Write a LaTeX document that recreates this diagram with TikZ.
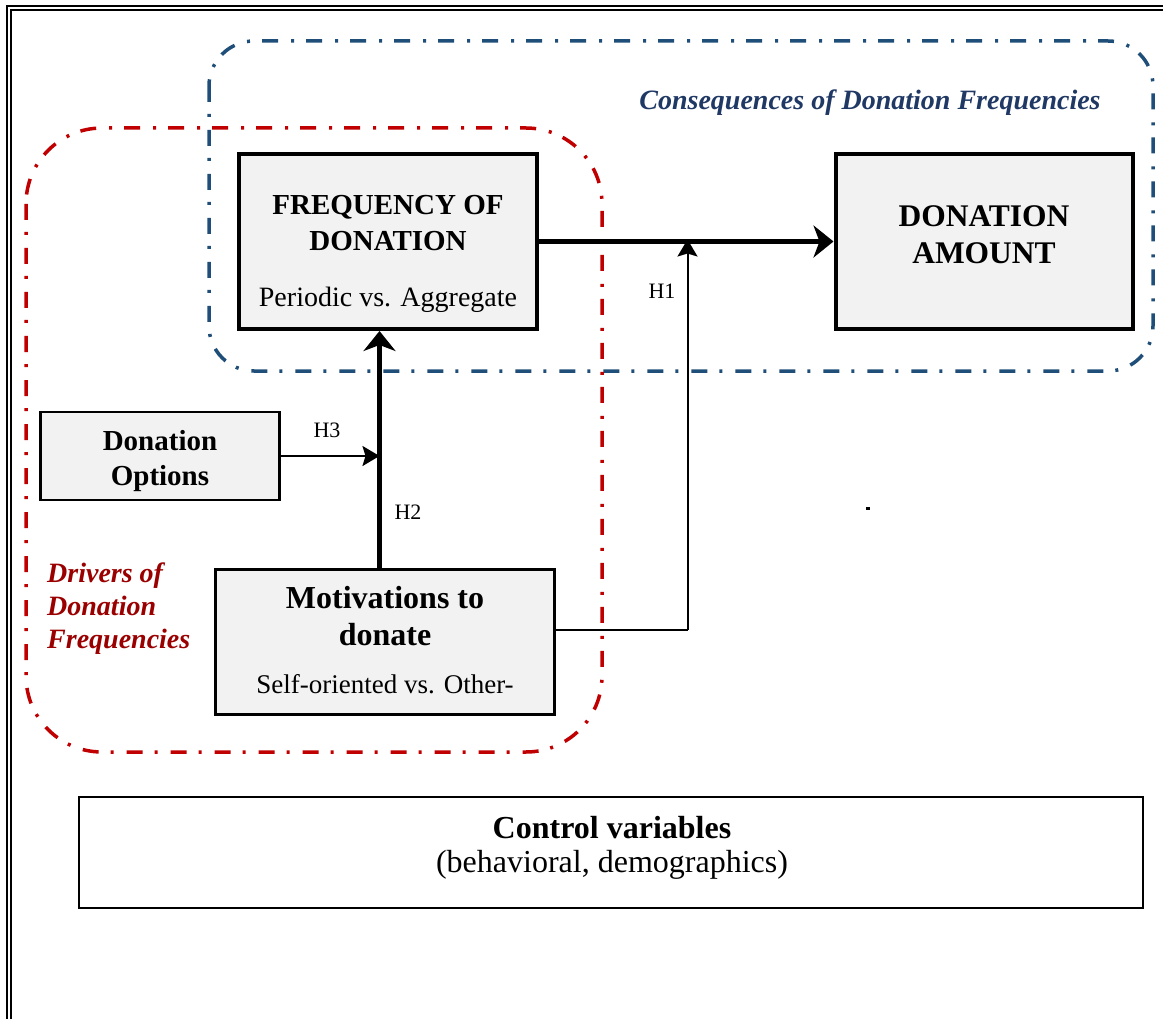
\documentclass[tikz,border=0pt]{standalone}
\usepackage{fontspec}
\setmainfont{Liberation Serif}
\usetikzlibrary{arrows.meta}
\definecolor{cblue}{HTML}{1F4E79}
\definecolor{cnavy}{HTML}{1F3864}
\definecolor{cred}{HTML}{C00000}
\definecolor{cdred}{HTML}{9A0000}
\definecolor{boxfill}{HTML}{F2F2F2}
\begin{document}
\begin{tikzpicture}[x=1pt,y=-1pt,
  dashdot/.style={line width=3.5pt, dash pattern=on 16pt off 12pt on 3pt off 13pt},
  boxthick/.style={draw=black, line width=4pt, fill=boxfill, inner sep=0pt},
  boxthin/.style={draw=black, line width=2.3pt, fill=boxfill, inner sep=0pt},
  txt/.style={inner sep=0pt, anchor=base},
  bigarrow/.style={line width=4.3pt, -{Stealth[length=20pt 0 0,width=32pt 0 0,inset=6pt 0 0]}},
  thinarrow/.style={line width=2pt, -{Stealth[length=17pt 0 0,width=20pt 0 0,inset=3pt 0 0]}},
  plainline/.style={line width=2pt},
]
\useasboundingbox (0,0) rectangle (1163,1019);
\clip (0,0) rectangle (1163,1019);
% outer double frame
\draw[line width=1.3pt] (7,6) rectangle (1300,1200);
\draw[line width=1.3pt] (11,10) rectangle (1300,1200);
% group outlines
\draw[cblue, dashdot, rounded corners=45pt] (209,41) rectangle (1153,371);
\draw[cred, dashdot, rounded corners=76pt] (26,128) rectangle (602,752);
% boxes
\node[boxthick, minimum width=298pt, minimum height=175pt] (freq) at (388,241.5) {};
\node[boxthick, minimum width=297.5pt, minimum height=175pt] (amount) at (984.25,241.5) {};
\node[boxthin, minimum width=239pt, minimum height=88pt] (opt) at (160,456) {};
\node[boxthin, minimum width=339pt, minimum height=145pt] (mot) at (385,642) {};
\node[draw=black, line width=2pt, fill=white, inner sep=0pt, minimum width=1064pt, minimum height=111pt] (ctrl) at (611,852.5) {};
% texts
\node[txt, text=cnavy, font=\fontsize{28}{34}\selectfont\bfseries\itshape] (conslbl) at (870,110) {Consequences of Donation Frequencies};
\node[txt, font=\fontsize{29}{36}\selectfont\bfseries] (freqt1) at (388,215) {FREQUENCY OF};
\node[txt, font=\fontsize{29}{36}\selectfont\bfseries] (freqt2) at (388,251) {DONATION};
\node[txt, font=\fontsize{28}{34}\selectfont] (freqt3) at (388,307) {Periodic vs. Aggregate};
\node[txt, font=\fontsize{31.5}{38}\selectfont\bfseries] (amt1) at (984,227) {DONATION};
\node[txt, font=\fontsize{31.5}{38}\selectfont\bfseries] (amt2) at (984,264) {AMOUNT};
\node[txt, font=\fontsize{29}{36}\selectfont\bfseries] (opt1) at (160,450) {Donation};
\node[txt, font=\fontsize{29}{36}\selectfont\bfseries] (opt2) at (160,485) {Options};
\node[txt, font=\fontsize{32}{38}\selectfont\bfseries] (mot1) at (385,608) {Motivations to};
\node[txt, font=\fontsize{32}{38}\selectfont\bfseries] (mot2) at (385,645) {donate};
\node[txt, font=\fontsize{27}{33}\selectfont] (mot3) at (385,693) {Self-oriented vs. Other-};
\node[txt, anchor=base west, text=cdred, font=\fontsize{28}{34}\selectfont\bfseries\itshape] (drv1) at (47,582) {Drivers of};
\node[txt, anchor=base west, text=cdred, font=\fontsize{28}{34}\selectfont\bfseries\itshape] (drv2) at (47,615) {Donation};
\node[txt, anchor=base west, text=cdred, font=\fontsize{28}{34}\selectfont\bfseries\itshape] (drv3) at (47,648) {Frequencies};
\node[txt, font=\fontsize{32}{38}\selectfont\bfseries] (ctrl1) at (612,838) {Control variables};
\node[txt, font=\fontsize{32}{38}\selectfont] (ctrl2) at (612,872) {(behavioral, demographics)};
% connectors
\coordinate (h2x) at (379.5,0);
\coordinate (h1c) at (687.5,630);
\draw[bigarrow] (freq.east) -- (amount.west);
\draw[bigarrow] (h2x |- mot.north) -- (h2x |- freq.south);
\draw[thinarrow] (opt.east) -- (h2x |- opt.east);
\draw[plainline] (mot.east |- h1c) -- (h1c);
\draw[thinarrow] (h1c) -- ([yshift=2pt]h1c |- freq.east);
\node[txt, font=\fontsize{22}{26}\selectfont] (h3lbl) at (327,437) {H3};
\node[txt, font=\fontsize{22}{26}\selectfont] (h2lbl) at (408,519) {H2};
\node[txt, font=\fontsize{22}{26}\selectfont] (h1lbl) at (662,299) {H1};
% stray mark
\fill (866,507) rectangle (870,509.5);
\end{tikzpicture}
\end{document}
